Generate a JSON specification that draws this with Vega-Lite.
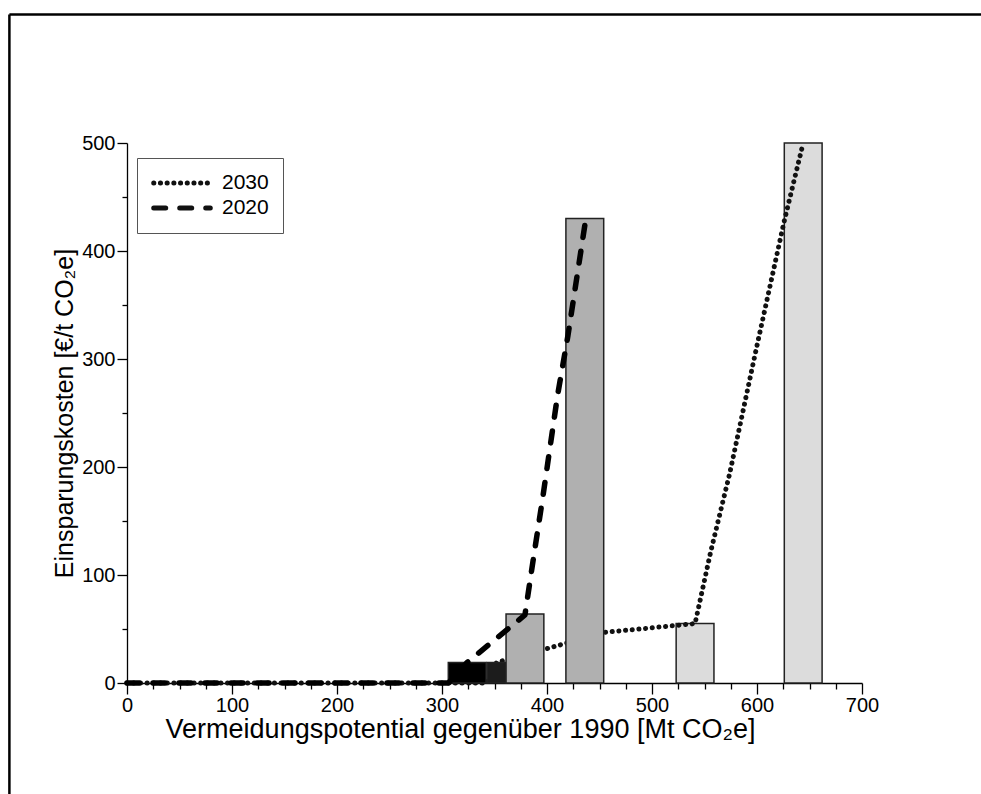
{
  "$schema": "https://vega.github.io/schema/vega-lite/v6.json",
  "width": 735,
  "height": 540,
  "autosize": {"type": "none"},
  "padding": {"left": 127, "top": 143, "right": 119, "bottom": 111},
  "background": "white",
  "config": {
    "view": {"stroke": null},
    "font": "Liberation Sans",
    "axis": {
      "labelFont": "Liberation Sans",
      "labelFontSize": 20,
      "titleFont": "Liberation Sans",
      "titleFontSize": 25,
      "titleFontWeight": "normal",
      "domainColor": "#000",
      "tickColor": "#000",
      "labelColor": "#000",
      "titleColor": "#000",
      "grid": false,
      "domainWidth": 1.3,
      "tickWidth": 1.3
    }
  },
  "datasets": {
    "bars": [
      {"x0": 306, "x1": 342, "h": 19, "kind": "black", "year": "2020"},
      {"x0": 343, "x1": 361, "h": 19, "kind": "dark", "year": "2020"},
      {"x0": 361, "x1": 397, "h": 64, "kind": "dense", "year": "2020"},
      {"x0": 418, "x1": 454, "h": 430, "kind": "dense", "year": "2020"},
      {"x0": 523, "x1": 559, "h": 55, "kind": "sparse", "year": "2030"},
      {"x0": 626, "x1": 662, "h": 500, "kind": "sparse", "year": "2030"}
    ],
    "lines": [
      {"series": "2030", "x": 0, "y": 0},
      {"series": "2030", "x": 343, "y": 0},
      {"series": "2030", "x": 352, "y": 19},
      {"series": "2030", "x": 397, "y": 31},
      {"series": "2030", "x": 455, "y": 47},
      {"series": "2030", "x": 488, "y": 50},
      {"series": "2030", "x": 541, "y": 55},
      {"series": "2030", "x": 556, "y": 122},
      {"series": "2030", "x": 574, "y": 194},
      {"series": "2030", "x": 599, "y": 308},
      {"series": "2030", "x": 626, "y": 428},
      {"series": "2030", "x": 644, "y": 500},
      {"series": "2020", "x": 0, "y": 0},
      {"series": "2020", "x": 306, "y": 0},
      {"series": "2020", "x": 324, "y": 19},
      {"series": "2020", "x": 379, "y": 63},
      {"series": "2020", "x": 387, "y": 115},
      {"series": "2020", "x": 396, "y": 172},
      {"series": "2020", "x": 410, "y": 266},
      {"series": "2020", "x": 420, "y": 322},
      {"series": "2020", "x": 437, "y": 430}
    ],
    "frame": [
      {"x": -112, "x2": 830, "y": 619, "y2": 619},
      {"x": -112, "x2": -112, "y": -120, "y2": 619}
    ]
  },
  "layer": [
    {
      "data": {"name": "bars"},
      "transform": [{"filter": "datum.year == '2030'"}],
      "mark": {"type": "rect", "stroke": "#222", "strokeWidth": 1.5},
      "encoding": {
        "x": {
          "field": "x0", "type": "quantitative",
          "scale": {"domain": [0, 700], "nice": false},
          "axis": {"orient": "bottom", "values": [0, 100, 200, 300, 400, 500, 600, 700], "tickSize": 11, "labelPadding": 1, "title": "Vermeidungspotential gegenüber 1990 [Mt CO₂e]", "titleX": 333, "titleAlign": "center", "titlePadding": 1, "titleFontSize": 27, "labelFlush": false}
        },
        "x2": {"field": "x1"},
        "y": {
          "field": "h", "type": "quantitative",
          "scale": {"domain": [0, 500], "nice": false},
          "axis": {"orient": "left", "values": [0, 100, 200, 300, 400, 500], "tickSize": 10, "labelPadding": 2, "title": "Einsparungskosten [€/t CO₂e]", "titlePadding": 4, "labelFlush": false}
        },
        "y2": {"datum": 0},
        "fill": {
          "field": "kind", "type": "nominal",
          "scale": {"domain": ["black", "dark", "dense", "sparse"], "range": ["#000000", "#1c1c1c", "#b0b0b0", "#dcdcdc"]},
          "legend": null
        }
      }
    },
    {
      "data": {"name": "lines"},
      "transform": [{"filter": "datum.series == '2030'"}],
      "mark": {"type": "line", "strokeWidth": 5, "strokeCap": "round", "strokeJoin": "round", "color": "#111"},
      "encoding": {
        "x": {"field": "x", "type": "quantitative", "axis": null},
        "y": {"field": "y", "type": "quantitative", "axis": null},
        "strokeDash": {
          "field": "series", "type": "nominal",
          "scale": {"domain": ["2030", "2020"], "range": [[0.1, 6.6], [12, 14]]},
          "legend": {
            "orient": "none", "legendX": 10, "legendY": 15, "title": null,
            "strokeColor": "#555", "padding": 14, "rowPadding": 3, "clipHeight": 22,
            "symbolType": "stroke", "symbolSize": 3200, "symbolStrokeWidth": 5,
            "symbolStrokeColor": "#111", "labelFontSize": 21, "labelFont": "Liberation Sans",
            "labelColor": "#000", "labelOffset": 9,
            "encode": {"symbols": {"update": {"strokeCap": {"value": "round"}}}}
          }
        }
      }
    },
    {
      "data": {"name": "bars"},
      "transform": [{"filter": "datum.year == '2020'"}],
      "mark": {"type": "rect", "stroke": "#222", "strokeWidth": 1.5},
      "encoding": {
        "x": {"field": "x0", "type": "quantitative", "axis": null},
        "x2": {"field": "x1"},
        "y": {"field": "h", "type": "quantitative", "axis": null},
        "y2": {"datum": 0},
        "fill": {"field": "kind", "type": "nominal", "legend": null}
      }
    },
    {
      "data": {"name": "lines"},
      "transform": [{"filter": "datum.series == '2020'"}],
      "mark": {"type": "line", "strokeWidth": 5.5, "strokeCap": "round", "strokeJoin": "round", "color": "#000"},
      "encoding": {
        "x": {"field": "x", "type": "quantitative", "axis": null},
        "y": {"field": "y", "type": "quantitative", "axis": null},
        "strokeDash": {"field": "series", "type": "nominal"}
      }
    },
    {
      "data": {"name": "frame"},
      "mark": {"type": "rule", "color": "#000", "strokeWidth": 2.5, "clip": false},
      "encoding": {
        "x": {"field": "x", "type": "quantitative", "axis": null},
        "x2": {"field": "x2"},
        "y": {"field": "y", "type": "quantitative", "axis": null},
        "y2": {"field": "y2"}
      }
    },
    {
      "data": {"name": "lines"},
      "mark": {"type": "point", "opacity": 0},
      "encoding": {
        "x": {"field": "x", "type": "quantitative", "axis": {"orient": "bottom", "values": [25, 50, 75, 125, 150, 175, 225, 250, 275, 325, 350, 375, 425, 450, 475, 525, 550, 575, 625, 650, 675], "labels": false, "domain": false, "tickSize": 6, "title": null}},
        "y": {"field": "y", "type": "quantitative", "axis": {"orient": "left", "values": [50, 150, 250, 350, 450], "labels": false, "domain": false, "tickSize": 5, "title": null}}
      }
    }
  ],
  "resolve": {"axis": {"x": "independent", "y": "independent"}}
}
